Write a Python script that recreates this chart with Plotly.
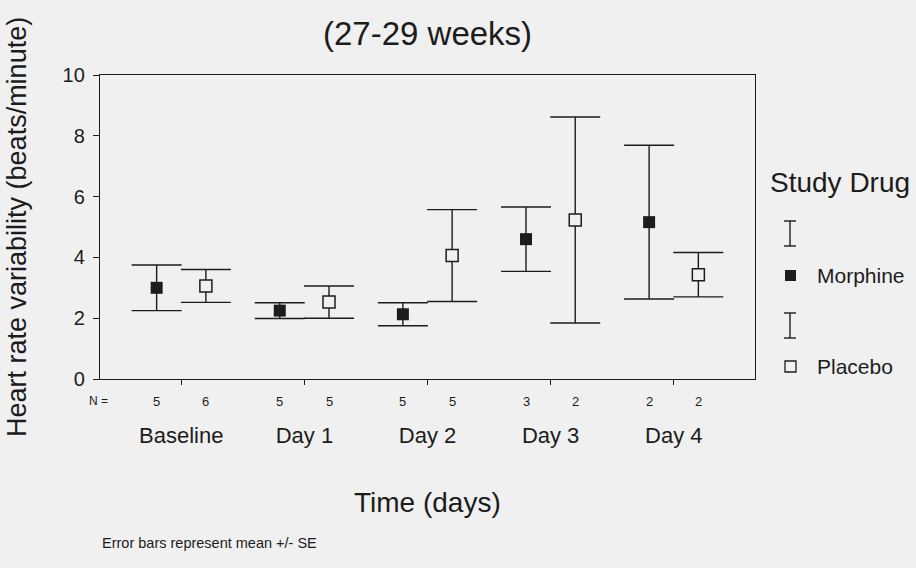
import plotly.graph_objects as go

# Heart rate variability by study day, mean +/- SE, 27-29 weeks group
days = ["Baseline", "Day 1", "Day 2", "Day 3", "Day 4"]
morphine_mean = [3.00, 2.25, 2.13, 4.60, 5.16]
morphine_se = [0.75, 0.26, 0.38, 1.06, 2.53]
placebo_mean = [3.06, 2.53, 4.06, 5.23, 3.43]
placebo_se = [0.54, 0.53, 1.51, 3.39, 0.73]
morphine_n = [5, 5, 5, 3, 2]
placebo_n = [6, 5, 5, 2, 2]

OFFSET = 0.2
BG = "#f0f0f0"
INK = "#1c1c1c"
FONT = "Liberation Sans, Arial, sans-serif"

x_morph = [i - OFFSET for i in range(len(days))]
x_plac = [i + OFFSET for i in range(len(days))]

fig = go.Figure()

fig.add_trace(go.Scatter(
    x=x_morph, y=morphine_mean, mode="markers", name="Morphine",
    marker=dict(symbol="square", size=12, color=INK, line=dict(width=0)),
    error_y=dict(type="data", array=morphine_se, color=INK, thickness=1.4, width=25),
    showlegend=False,
))
fig.add_trace(go.Scatter(
    x=x_plac, y=placebo_mean, mode="markers", name="Placebo",
    marker=dict(symbol="square", size=12, color=BG, line=dict(width=1.5, color=INK)),
    error_y=dict(type="data", array=placebo_se, color=INK, thickness=1.4, width=25),
    showlegend=False,
))

# Plot area in pixels (for placing legend and side texts)
L, R, T, B = 100, 755, 75, 379
W, H = R - L, B - T


def px(xp):
    return (xp - L) / W


def py(yp):
    return (B - yp) / H


def label(text, x, y, size, xanchor="center", xref="paper", angle=0):
    return dict(text=text, x=x, y=y, xref=xref, yref="paper", showarrow=False,
                xanchor=xanchor, yanchor="middle", textangle=angle,
                font=dict(size=size, color=INK, family=FONT))


annotations = []

# Group sizes under each point
annotations.append(label("N =", px(98), py(401), 12))
for xs, ns in ((x_morph, morphine_n), (x_plac, placebo_n)):
    for xv, n in zip(xs, ns):
        annotations.append(label(str(n), xv, py(401), 13, xref="x"))

# Titles and note
annotations.append(label("(27-29 weeks)", 0.5, py(34), 33))
annotations.append(label("Heart rate variability (beats/minute)", px(17), 0.5, 27, angle=-90))
annotations.append(label("Time (days)", 0.5, py(502), 28))
annotations.append(label("Error bars represent mean +/- SE", px(100), py(543), 14.5, xanchor="left"))

# Legend
annotations.append(label("Study Drug", px(768), py(182), 28, xanchor="left"))
annotations.append(label("Morphine", px(815), py(275), 21, xanchor="left"))
annotations.append(label("Placebo", px(815), py(366), 21, xanchor="left"))

shapes = []
line_style = dict(color=INK, width=1.4)
for top, bot in ((221, 246), (313, 338)):
    shapes.append(dict(type="line", xref="paper", yref="paper",
                       x0=px(790), x1=px(790), y0=py(top), y1=py(bot), line=line_style))
    for yy in (top, bot):
        shapes.append(dict(type="line", xref="paper", yref="paper",
                           x0=px(784), x1=px(796), y0=py(yy), y1=py(yy), line=line_style))
shapes.append(dict(type="rect", xref="paper", yref="paper",
                   x0=px(785), x1=px(796), y0=py(281), y1=py(270),
                   fillcolor=INK, line=dict(width=0)))
shapes.append(dict(type="rect", xref="paper", yref="paper",
                   x0=px(785), x1=px(796), y0=py(372), y1=py(361),
                   fillcolor=BG, line=dict(color=INK, width=1.3)))

fig.update_layout(
    width=916, height=568,
    margin=dict(l=L, r=916 - R, t=T, b=568 - B),
    paper_bgcolor=BG, plot_bgcolor=BG,
    font=dict(family=FONT, color=INK),
    annotations=annotations, shapes=shapes,
    showlegend=False,
    xaxis=dict(
        range=[-0.66, 4.66], tickmode="array", tickvals=list(range(len(days))),
        ticktext=days, ticks="outside", ticklen=5, tickwidth=1.4, tickcolor=INK,
        showline=True, linecolor=INK, linewidth=1.4, mirror=True,
        showgrid=False, zeroline=False, ticklabelstandoff=31,
        tickfont=dict(size=22, color=INK, family=FONT),
    ),
    yaxis=dict(
        range=[0, 10], tickmode="linear", tick0=0, dtick=2,
        ticks="outside", ticklen=6, tickwidth=1.4, tickcolor=INK,
        showline=True, linecolor=INK, linewidth=1.4, mirror=True,
        showgrid=False, zeroline=False, ticklabelstandoff=4,
        tickfont=dict(size=20, color=INK, family=FONT),
    ),
)

fig.write_html("out.html")
